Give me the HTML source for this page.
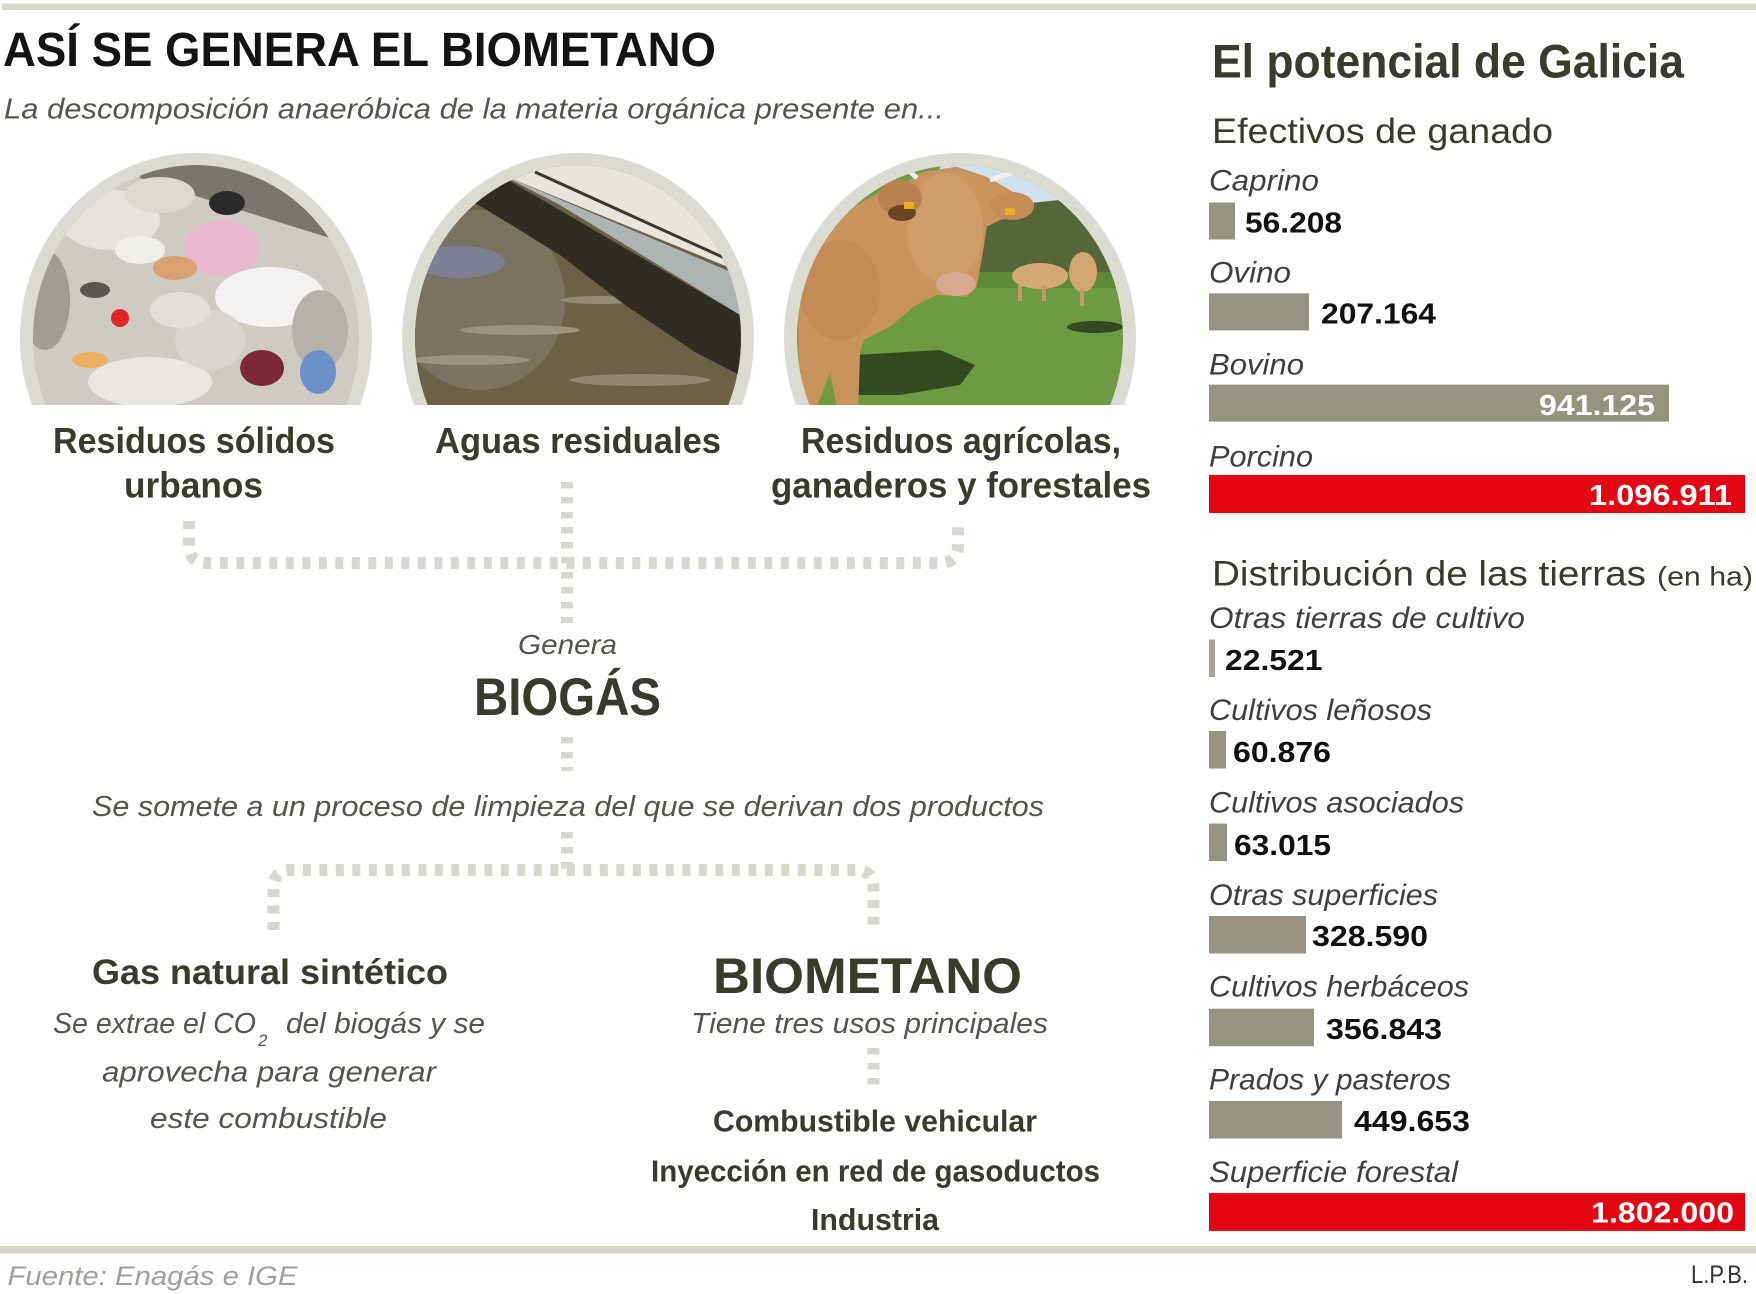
<!DOCTYPE html>
<html>
<head>
<meta charset="utf-8">
<style>
html,body{margin:0;padding:0;background:#ffffff;}
svg{display:block;}
text{font-family:"Liberation Sans",sans-serif;}
.lb{font-weight:bold;fill:#3b3b2c;}
.it{font-style:italic;fill:#55554d;}
.rl{font-style:italic;fill:#3f3f3b;font-size:30px;}
.val{font-weight:bold;fill:#111111;font-size:29px;}
.vw{font-weight:bold;fill:#ffffff;font-size:29px;}
.dash{stroke:#d9d8cf;stroke-width:12;fill:none;}
</style>
</head>
<body>
<svg width="1756" height="1294" viewBox="0 0 1756 1294" xmlns="http://www.w3.org/2000/svg">
<defs>
  <clipPath id="p1"><path d="M45.7,405 A163,173 0 1 1 346.3,405 Z"/></clipPath>
  <clipPath id="p2"><path d="M427.7,405 A163,173 0 1 1 728.3,405 Z"/></clipPath>
  <clipPath id="p3"><path d="M809.7,405 A163,173 0 1 1 1110.3,405 Z"/></clipPath>
</defs>

<!-- rules -->
<rect x="2" y="3.5" width="1754" height="6.5" fill="#d9d7c8"/>
<rect x="0" y="1246" width="1756" height="7.5" fill="#d9d7c8"/>

<!-- Left title -->
<text x="3" y="66" font-size="48" font-weight="bold" fill="#141414" textLength="713" lengthAdjust="spacingAndGlyphs">ASÍ SE GENERA EL BIOMETANO</text>
<text class="it" x="4" y="118.5" font-size="29" textLength="940" lengthAdjust="spacingAndGlyphs">La descomposición anaeróbica de la materia orgánica presente en...</text>

<!-- circle rings -->
<path d="M32,405 A176,185 0 1 1 360,405 Z" fill="#dcdbd2"/>
<path d="M414,405 A176,185 0 1 1 742,405 Z" fill="#dcdbd2"/>
<path d="M796,405 A176,185 0 1 1 1124,405 Z" fill="#dcdbd2"/>

<!-- Photo 1: garbage -->
<g clip-path="url(#p1)">
  <rect x="20" y="150" width="360" height="260" fill="#cfcac4"/>
  <polygon points="140,160 360,160 360,245 330,238 240,210 140,178" fill="#7a766f"/>
  <ellipse cx="110" cy="220" rx="50" ry="30" fill="#e6e3df"/>
  <ellipse cx="160" cy="195" rx="35" ry="18" fill="#dcd8d2"/>
  <ellipse cx="227" cy="203" rx="18" ry="12" fill="#2a2a2a"/>
  <ellipse cx="222" cy="248" rx="38" ry="28" fill="#e9b8cc"/>
  <ellipse cx="175" cy="268" rx="22" ry="12" fill="#d9a070"/>
  <ellipse cx="140" cy="250" rx="25" ry="14" fill="#f0eeea"/>
  <ellipse cx="270" cy="297" rx="55" ry="30" fill="#f3f2f0"/>
  <ellipse cx="150" cy="382" rx="62" ry="25" fill="#e9e6e2"/>
  <ellipse cx="210" cy="340" rx="35" ry="30" fill="#d8d4cf"/>
  <ellipse cx="320" cy="330" rx="28" ry="40" fill="#b5b0aa"/>
  <ellipse cx="45" cy="300" rx="25" ry="50" fill="#a29c96"/>
  <ellipse cx="95" cy="290" rx="15" ry="8" fill="#5a5550"/>
  <ellipse cx="180" cy="310" rx="30" ry="18" fill="#e2deda"/>
  <circle cx="120" cy="318" r="9" fill="#e02828"/>
  <ellipse cx="262" cy="368" rx="22" ry="18" fill="#7a2838"/>
  <ellipse cx="318" cy="372" rx="18" ry="22" fill="#6a90c8"/>
  <ellipse cx="90" cy="360" rx="18" ry="8" fill="#e8b060"/>
</g>

<!-- Photo 2: water -->
<g clip-path="url(#p2)">
  <rect x="400" y="150" width="360" height="260" fill="#6a6146"/>
  <ellipse cx="480" cy="300" rx="85" ry="90" fill="#7a7360"/>
  <ellipse cx="460" cy="262" rx="45" ry="16" fill="#7c8092"/>
  <ellipse cx="520" cy="330" rx="60" ry="5" fill="#9a937f"/>
  <ellipse cx="470" cy="360" rx="60" ry="5" fill="#9a937f"/>
  <ellipse cx="600" cy="300" rx="40" ry="4" fill="#918a76"/>
  <ellipse cx="640" cy="380" rx="70" ry="6" fill="#8d8672"/>
  <polygon points="470,200 508,180 745,318 745,378 695,352 625,305 560,255 500,218" fill="#2f2c22"/>
  <polygon points="500,174 745,278 745,318 560,205" fill="#aeb3b3"/>
  <polygon points="520,160 760,160 760,280 500,174" fill="#e7e5de"/>
  <line x1="535" y1="172" x2="740" y2="265" stroke="#3a3530" stroke-width="3"/>
</g>

<!-- Photo 3: cow -->
<g clip-path="url(#p3)">
  <rect x="780" y="150" width="360" height="260" fill="#6e9a44"/>
  <rect x="940" y="160" width="200" height="70" fill="#cfe0ee"/>
  <polygon points="975,215 1010,205 1060,200 1100,215 1130,240 1130,285 975,285" fill="#56673a"/>
  <rect x="960" y="272" width="180" height="16" fill="#5f8a38"/>
  <ellipse cx="1040" cy="276" rx="28" ry="13" fill="#d4a874"/>
  <ellipse cx="1083" cy="272" rx="14" ry="20" fill="#d2a572"/>
  <rect x="1018" y="285" width="4" height="16" fill="#c59a68"/>
  <rect x="1042" y="285" width="4" height="16" fill="#c59a68"/>
  <rect x="1080" y="288" width="4" height="18" fill="#c59a68"/>
  <polygon points="855,355 940,350 975,365 960,385 900,395 855,395" fill="#34491f"/>
  <ellipse cx="1095" cy="327" rx="28" ry="6" fill="#34491f"/>
  <polygon points="798.3,250 836.7,216.7 883.3,190 910,180 923.3,171.7 956.7,166.7 986.7,176.7 1010,190 1031.7,203.3 1023.3,216.7 1000,220 986.7,226.7 983.3,250 976.7,286.7 966.7,296.7 936.7,295 913.3,306.7 890,326.7 863.3,340 860,353.3 858.3,406.7 836.7,406.7 830,373 816.7,406.7 800,406.7 798.3,340" fill="#c9935e"/>
  <ellipse cx="945" cy="228" rx="38" ry="55" fill="#cf9c68"/>
  <ellipse cx="840" cy="290" rx="40" ry="50" fill="#c38c57"/>
  <ellipse cx="956" cy="284" rx="20" ry="12" fill="#d8a890"/>
  <ellipse cx="900" cy="198" rx="22" ry="18" fill="#b98050"/>
  <ellipse cx="902" cy="213" rx="14" ry="8" fill="#6a4526"/>
  <ellipse cx="1012" cy="206" rx="22" ry="14" fill="#c68c58"/>
  <rect x="904" y="202" width="10" height="7" fill="#e8b020"/>
  <rect x="1005" y="208" width="10" height="7" fill="#e8b020"/>
  <path d="M917,178 Q908,170 905,166" stroke="#f2efe8" stroke-width="5" fill="none"/>
  <path d="M990,180 Q1002,176 1016,172" stroke="#f2efe8" stroke-width="5" fill="none"/>
</g>

<!-- circle labels -->
<text class="lb" x="53" y="453" font-size="36" textLength="282" lengthAdjust="spacingAndGlyphs">Residuos sólidos</text>
<text class="lb" x="124" y="497.6" font-size="36" textLength="139" lengthAdjust="spacingAndGlyphs">urbanos</text>
<text class="lb" x="435" y="453" font-size="36" textLength="286" lengthAdjust="spacingAndGlyphs">Aguas residuales</text>
<text class="lb" x="801" y="453" font-size="36" textLength="320" lengthAdjust="spacingAndGlyphs">Residuos agrícolas,</text>
<text class="lb" x="771" y="497.6" font-size="36" textLength="380" lengthAdjust="spacingAndGlyphs">ganaderos y forestales</text>

<!-- connectors -->
<line class="dash" x1="567" y1="482" x2="567" y2="623" stroke-dasharray="6.5 8.5"/>
<path class="dash" d="M189,521 V545 Q189,563 207,563 H940 Q958,563 958,545 V521" stroke-dasharray="8 8.5"/>
<line class="dash" x1="567" y1="737" x2="567" y2="771" stroke-dasharray="6.5 8.5"/>
<line class="dash" x1="567" y1="832" x2="567" y2="870" stroke-dasharray="6.5 8.5"/>
<path class="dash" d="M273.5,930 V888 Q273.5,870 291.5,870 H855.5 Q873.5,870 873.5,888 V930" stroke-dasharray="8 8.5"/>
<line class="dash" x1="873.5" y1="1048" x2="873.5" y2="1092" stroke-dasharray="6.5 8.5"/>

<!-- middle texts -->
<text class="it" x="518" y="654" font-size="28" textLength="99" lengthAdjust="spacingAndGlyphs">Genera</text>
<text class="lb" x="474" y="715" font-size="53" textLength="187" lengthAdjust="spacingAndGlyphs">BIOGÁS</text>
<text class="it" x="92" y="816" font-size="29" textLength="952" lengthAdjust="spacingAndGlyphs">Se somete a un proceso de limpieza del que se derivan dos productos</text>

<text class="lb" x="92" y="984" font-size="35" textLength="356" lengthAdjust="spacingAndGlyphs">Gas natural sintético</text>
<text class="it" x="53" y="1033" font-size="29" textLength="203" lengthAdjust="spacingAndGlyphs">Se extrae el CO</text>
<text class="it" x="258" y="1046" font-size="17">2</text>
<text class="it" x="286" y="1033" font-size="29" textLength="199" lengthAdjust="spacingAndGlyphs">del biogás y se</text>
<text class="it" x="102" y="1081.7" font-size="29" textLength="334" lengthAdjust="spacingAndGlyphs">aprovecha para generar</text>
<text class="it" x="150" y="1128" font-size="29" textLength="237" lengthAdjust="spacingAndGlyphs">este combustible</text>

<text class="lb" x="713" y="993" font-size="50" textLength="309" lengthAdjust="spacingAndGlyphs">BIOMETANO</text>
<text class="it" x="691" y="1033" font-size="29" textLength="357" lengthAdjust="spacingAndGlyphs">Tiene tres usos principales</text>
<text class="lb" x="713" y="1131.7" font-size="31" textLength="324" lengthAdjust="spacingAndGlyphs">Combustible vehicular</text>
<text class="lb" x="651" y="1181.7" font-size="31" textLength="449" lengthAdjust="spacingAndGlyphs">Inyección en red de gasoductos</text>
<text class="lb" x="811" y="1230" font-size="31" textLength="128" lengthAdjust="spacingAndGlyphs">Industria</text>

<text x="7.5" y="1285" font-size="27" font-style="italic" fill="#a0a09a" textLength="290" lengthAdjust="spacingAndGlyphs">Fuente: Enagás e IGE</text>
<text x="1691" y="1283" font-size="25" fill="#333333" textLength="57" lengthAdjust="spacingAndGlyphs">L.P.B.</text>

<!-- Right panel -->
<text class="lb" x="1212" y="77.5" font-size="47" textLength="472" lengthAdjust="spacingAndGlyphs">El potencial de Galicia</text>
<text x="1212" y="143" font-size="35" fill="#3b3b2c" textLength="341" lengthAdjust="spacingAndGlyphs">Efectivos de ganado</text>

<text class="rl" x="1209" y="190.4" textLength="110" lengthAdjust="spacingAndGlyphs">Caprino</text>
<rect x="1209" y="202.5" width="26" height="37" fill="#969381"/>
<text class="val" x="1245" y="232.4" textLength="97" lengthAdjust="spacingAndGlyphs">56.208</text>

<text class="rl" x="1209" y="282.4" textLength="82" lengthAdjust="spacingAndGlyphs">Ovino</text>
<rect x="1209" y="293.4" width="100" height="37" fill="#969381"/>
<text class="val" x="1321" y="323.7" textLength="115" lengthAdjust="spacingAndGlyphs">207.164</text>

<text class="rl" x="1209" y="374.7" textLength="95" lengthAdjust="spacingAndGlyphs">Bovino</text>
<rect x="1209" y="384.6" width="460" height="37" fill="#969381"/>
<text class="vw" x="1539" y="415" textLength="116" lengthAdjust="spacingAndGlyphs">941.125</text>

<text class="rl" x="1209" y="466.6" textLength="104" lengthAdjust="spacingAndGlyphs">Porcino</text>
<rect x="1209" y="475" width="536" height="38" fill="#e30613"/>
<text class="vw" x="1589" y="505" textLength="143" lengthAdjust="spacingAndGlyphs">1.096.911</text>

<text x="1212" y="585.7" font-size="35" fill="#3b3b2c" textLength="434" lengthAdjust="spacingAndGlyphs">Distribución de las tierras</text>
<text x="1657" y="585.7" font-size="27" fill="#3b3b2c" textLength="96" lengthAdjust="spacingAndGlyphs">(en ha)</text>

<text class="rl" x="1209" y="628" textLength="316" lengthAdjust="spacingAndGlyphs">Otras tierras de cultivo</text>
<rect x="1209" y="639.5" width="6" height="37.5" fill="#a6a393"/>
<text class="val" x="1225" y="670" textLength="97.5" lengthAdjust="spacingAndGlyphs">22.521</text>

<text class="rl" x="1209" y="720" textLength="223" lengthAdjust="spacingAndGlyphs">Cultivos leñosos</text>
<rect x="1209" y="731" width="17" height="37.5" fill="#969381"/>
<text class="val" x="1233" y="762" textLength="98" lengthAdjust="spacingAndGlyphs">60.876</text>

<text class="rl" x="1209" y="812.6" textLength="255" lengthAdjust="spacingAndGlyphs">Cultivos asociados</text>
<rect x="1209" y="823.6" width="18" height="37.5" fill="#969381"/>
<text class="val" x="1234" y="855" textLength="97" lengthAdjust="spacingAndGlyphs">63.015</text>

<text class="rl" x="1209" y="905" textLength="229" lengthAdjust="spacingAndGlyphs">Otras superficies</text>
<rect x="1209" y="916" width="97" height="37.5" fill="#969381"/>
<text class="val" x="1312" y="946" textLength="116" lengthAdjust="spacingAndGlyphs">328.590</text>

<text class="rl" x="1209" y="996.7" textLength="260" lengthAdjust="spacingAndGlyphs">Cultivos herbáceos</text>
<rect x="1209" y="1008.7" width="105" height="37.5" fill="#969381"/>
<text class="val" x="1326" y="1039" textLength="116" lengthAdjust="spacingAndGlyphs">356.843</text>

<text class="rl" x="1209" y="1089.5" textLength="242" lengthAdjust="spacingAndGlyphs">Prados y pasteros</text>
<rect x="1209" y="1101" width="133" height="37.5" fill="#969381"/>
<text class="val" x="1354" y="1131" textLength="116" lengthAdjust="spacingAndGlyphs">449.653</text>

<text class="rl" x="1209" y="1182" textLength="249" lengthAdjust="spacingAndGlyphs">Superficie forestal</text>
<rect x="1209" y="1193" width="536" height="38" fill="#e30613"/>
<text class="vw" x="1591" y="1222.7" textLength="143" lengthAdjust="spacingAndGlyphs">1.802.000</text>
</svg>
</body>
</html>
